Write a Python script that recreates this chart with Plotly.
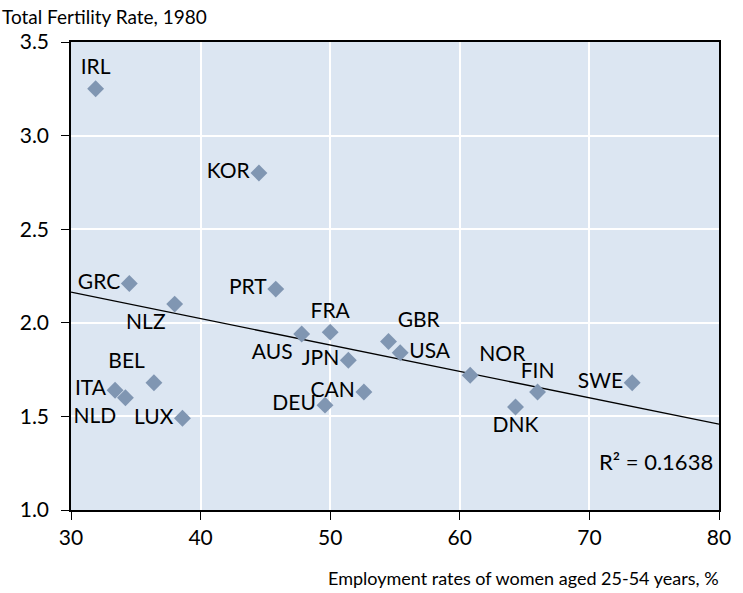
import numpy as np
import plotly.graph_objects as go

countries = ["IRL", "KOR", "GRC", "NLZ", "PRT", "FRA", "AUS", "JPN", "CAN", "DEU",
             "ITA", "NLD", "BEL", "LUX", "GBR", "USA", "NOR", "FIN", "SWE", "DNK"]
employment = [31.9, 44.5, 34.5, 38.0, 45.8, 50.0, 47.8, 51.4, 52.6, 49.6,
              33.4, 34.2, 36.4, 38.6, 54.5, 55.4, 60.8, 66.0, 73.3, 64.3]
fertility = [3.25, 2.80, 2.21, 2.10, 2.18, 1.95, 1.94, 1.80, 1.63, 1.56,
             1.64, 1.60, 1.68, 1.49, 1.90, 1.84, 1.72, 1.63, 1.68, 1.55]
label_pos = ["top center", "middle left", "middle left", "bottom left", "middle left",
             "top center", "bottom left", "middle left", "middle left", "middle left",
             "middle left", "bottom left", "top left", "middle left", "top right",
             "middle right", "top right", "top center", "middle left", "bottom center"]
x_ticks = [30, 40, 50, 60, 70, 80]
y_ticks = [1.0, 1.5, 2.0, 2.5, 3.0, 3.5]

FONT = "Lato, Open Sans, sans-serif"

# linear trend line
slope, intercept = np.polyfit(employment, fertility, 1)
trend_x = [30, 80]
trend_y = [intercept + slope * v for v in trend_x]

fig = go.Figure()
fig.add_trace(go.Scatter(
    x=trend_x, y=trend_y, mode="lines",
    line=dict(color="black", width=1.3), hoverinfo="skip",
))
fig.add_trace(go.Scatter(
    x=employment, y=fertility, mode="markers+text",
    text=countries, textposition=label_pos,
    textfont=dict(family=FONT, size=21, color="black"),
    marker=dict(symbol="diamond", size=13, color="#8096b2"),
))

fig.update_layout(
    width=743, height=593,
    margin=dict(l=71, r=24, t=42, b=83),
    paper_bgcolor="white",
    plot_bgcolor="#dce6f2",
    showlegend=False,
    font=dict(family=FONT, size=21, color="black"),
    annotations=[
        dict(text="Total Fertility Rate, 1980", xref="paper", yref="paper",
             x=-0.11, y=1.025, xanchor="left", yanchor="bottom", showarrow=False,
             font=dict(size=19)),
        dict(text="Employment rates of women aged 25-54 years, %", xref="paper", yref="paper",
             x=1.003, y=-0.118, xanchor="right", yanchor="top", showarrow=False,
             font=dict(size=18)),
        dict(text="R² = 0.1638", x=79.7, y=1.26, xanchor="right", yanchor="middle",
             showarrow=False, font=dict(size=22)),
    ],
)
fig.update_xaxes(
    range=[30, 80], tickvals=x_ticks, ticktext=[str(v) for v in x_ticks],
    showgrid=True, gridcolor="white", gridwidth=1.5, zeroline=False,
    showline=True, linecolor="black", linewidth=1.5, mirror=True,
    ticks="outside", ticklen=8, tickcolor="black",
)
fig.update_yaxes(
    range=[1.0, 3.5], tickvals=y_ticks, ticktext=[f"{v:.1f}" for v in y_ticks],
    showgrid=True, gridcolor="white", gridwidth=1.5, zeroline=False,
    showline=True, linecolor="black", linewidth=1.5, mirror=True,
    ticks="outside", ticklen=8, tickcolor="black", ticklabelstandoff=8,
)

fig.write_html("out.html", config={"displayModeBar": False},
               post_script="document.body.style.margin='0';")
